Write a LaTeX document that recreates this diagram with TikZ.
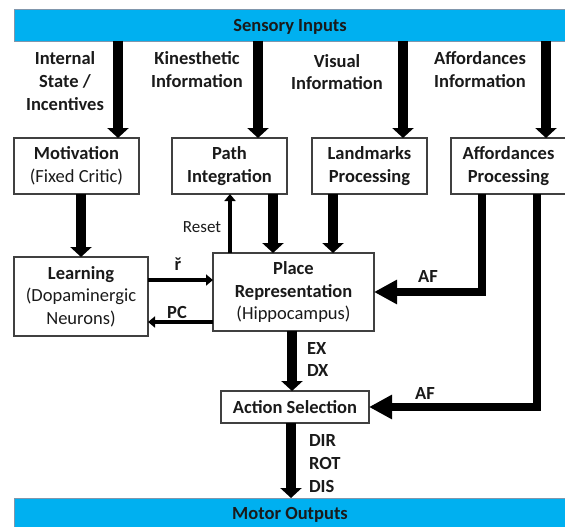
\documentclass[tikz,border=0pt]{standalone}
\usepackage{fontspec}
\setmainfont{Carlito}
\usetikzlibrary{arrows.meta}
\definecolor{barblue}{HTML}{00B0F0}
\definecolor{barline}{HTML}{8096AC}
\definecolor{boxline}{HTML}{404040}
\definecolor{ink}{HTML}{1A1A1A}

\begin{document}
\begin{tikzpicture}[x=1pt,y=-1pt,
  every node/.style={inner sep=0pt, outer sep=0pt, text=ink,
    font=\fontsize{18.5}{22.7}\selectfont},
  block/.style={draw=boxline, line width=1.1pt, fill=white, align=center,
    font=\fontsize{18.5}{22.7}\selectfont\bfseries},
  bar/.style={draw=barline, line width=0.8pt, fill=barblue,
    minimum width=552pt, text height=13pt, text depth=-1.5pt,
    font=\fontsize{18.5}{22.7}\selectfont\bfseries},
  lbl/.style={align=center, font=\fontsize{18.5}{22.7}\selectfont\bfseries},
  small/.style={font=\fontsize{17}{20}\selectfont},
  flow/.style={line width=9.5pt, -{Triangle[width=21pt,length=10pt]}},
  afflow/.style={line width=8pt, line join=miter, -{Triangle[width=23pt,length=23pt]}},
  signal/.style={line width=4pt, -{Triangle[width=11pt,length=7pt]}},
]
\useasboundingbox (0,0) rectangle (565,527);

% input and output bars
\node[bar, minimum height=32pt] (sens) at (290,25) {Sensory Inputs};
\node[bar, minimum height=30pt] (motor) at (290,513) {Motor Outputs};

% first row of processing blocks
\node[block, minimum width=125pt, minimum height=56pt] (mot) at (76.5,166)
  {Motivation\\\mdseries(Fixed Critic)};
\node[block, minimum width=115pt, minimum height=56pt] (path) at (229.5,166)
  {Path\\Integration};
\node[block, minimum width=115pt, minimum height=56pt] (land) at (369.5,166)
  {Landmarks\\Processing};
\node[block, minimum width=115pt, minimum height=56pt] (aff) at (508.5,166)
  {Affordances\\Processing};

% learning and place representation
\node[block, minimum width=134pt, minimum height=79pt] (learn) at (81,296.5)
  {Learning\\\mdseries(Dopaminergic\\\mdseries Neurons)};
\node[block, minimum width=161pt, minimum height=78pt] (place) at (293.5,292)
  {Place\\Representation\\\mdseries(Hippocampus)};

% action selection
\node[block, minimum width=148pt, minimum height=32pt] (act) at (295,407)
  {Action Selection};

% input labels
\node[lbl] (lin) at (65,81) {Internal\\State /\\Incentives};
\node[lbl] (lkin) at (197,69.5) {Kinesthetic\\Information};
\node[lbl] (lvis) at (337,72) {Visual\\Information};
\node[lbl] (laffi) at (480,69.5) {Affordances\\Information};

% entry points on the block tops
\coordinate (minp) at ([xshift=41.5pt]mot.north);
\coordinate (pinp) at ([xshift=28.5pt]path.north);
\coordinate (linp) at ([xshift=33.5pt]land.north);
\coordinate (ainp) at ([xshift=37.5pt]aff.north);

\draw[flow] (minp |- sens.south) -- (minp);
\draw[flow] (pinp |- sens.south) -- (pinp);
\draw[flow] (linp |- sens.south) -- (linp);
\draw[flow] (ainp |- sens.south) -- (ainp);

% motivation to learning
\draw[flow] (learn.north |- mot.south) -- (learn.north);

% path integration and landmarks into place representation
\coordinate (pout) at ([xshift=43.5pt]path.south);
\coordinate (lout) at ([xshift=-36.5pt]land.south);
\draw[flow] (pout) -- (pout |- place.north);
\draw[flow] (lout) -- (lout |- place.north);

% reset signal back to path integration
\coordinate (rst) at ([xshift=0.5pt]path.south);
\draw[signal] (rst |- place.north) -- (rst);
\node[small] (lrst) at (202,227) {Reset};

% reward and place-cell signals
\coordinate (rhat) at ([yshift=16.5pt]learn.east);
\coordinate (pc) at ([yshift=-25.5pt]learn.east);
\draw[signal] (rhat) -- (rhat -| place.west);
\draw[signal] (pc -| place.west) -- (pc);
\node[lbl] (lr) at (178,264) {ř};
\node[lbl] (lpc) at (177,312) {PC};

% affordance routes
\coordinate (af1) at ([xshift=-26.5pt]aff.south);
\coordinate (af2) at ([xshift=28.5pt]aff.south);
\draw[afflow] (af1) |- (place.east);
\draw[afflow] (af2) |- (act.east);
\node[lbl] (laf1) at (428,276) {AF};
\node[lbl] (laf2) at (425,393) {AF};

% place representation to action selection
\coordinate (pdown) at ([xshift=-1.5pt]place.south);
\draw[flow] (pdown) -- (pdown |- act.north);
\node[lbl, anchor=west] (lex) at (307,348) {EX};
\node[lbl, anchor=west] (ldx) at (307,370) {DX};

% action selection to motor outputs
\coordinate (adown) at ([xshift=-4pt]act.south);
\draw[flow] (adown) -- (adown |- motor.north);
\node[lbl, anchor=west] (ldir) at (309,440) {DIR};
\node[lbl, anchor=west] (lrot) at (309,463) {ROT};
\node[lbl, anchor=west] (ldis) at (309,486) {DIS};
\end{tikzpicture}
\end{document}
